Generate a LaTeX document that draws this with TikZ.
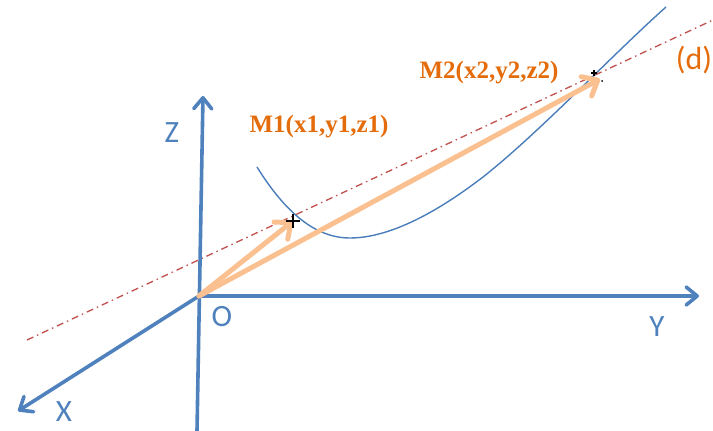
\documentclass[tikz,border=0pt]{standalone}
\usepackage{fontspec}
\newfontfamily\carl{Carlito}
\newfontfamily\tnr{Liberation Serif}
\usetikzlibrary{arrows.meta}
\definecolor{axisblue}{HTML}{4F81BD}
\definecolor{curveblue}{HTML}{4A7EBB}
\definecolor{vecorange}{HTML}{FAC090}
\definecolor{lblorange}{HTML}{E46C0A}
\definecolor{dashred}{HTML}{C0504D}
\tikzset{
  axis/.style={draw=axisblue, line width=3.6pt, line cap=round, -{Straight Barb[length=11pt,width=18pt,line cap=round,line join=round]}},
  vec/.style={draw=vecorange, line width=5pt, line cap=round, -{Straight Barb[length=13pt,width=22pt,line cap=round,line join=round]}},
  axlbl/.style={text=axisblue, font=\carl\fontsize{31}{31}\selectfont, inner sep=0pt},
  ptlbl/.style={text=lblorange, font=\tnr\bfseries\fontsize{25}{25}\selectfont, inner sep=0pt},
  dlbl/.style={text=lblorange, font=\carl\fontsize{32}{32}\selectfont, inner sep=0pt},
  line d/.style={draw=dashred, line width=1.3pt, dash pattern=on 7pt off 4pt on 1.5pt off 4pt},
}
\begin{document}
\begin{tikzpicture}[x=1pt,y=-1pt]
\useasboundingbox (0,0) rectangle (713,431);
% key points
\coordinate (O) at (199,296);
\coordinate (Ztop) at (203,96);
\coordinate (Zbot) at (197,431);
\coordinate (Ytip) at (699,296);
\coordinate (Xtip) at (18,411);
\coordinate (D1) at (27,340);
\coordinate (D2) at (713,20);
\coordinate (M1) at (293,221);
\coordinate (M2) at (600,79);
% line (d)
\draw[line d] (D1) -- (D2);
% curve
\draw[curveblue, line width=1.4pt] (257,167) .. controls (285,212) and (315,238) .. (350,238)
  .. controls (398,238) and (453,200) .. (483,177)
  .. controls (540,132) and (610,57) .. (666,7);
% axes
\draw[axis] (Zbot) -- (Ztop);
\draw[axis] (O) -- (Ytip);
\draw[axis] (O) -- (Xtip);
% vectors
\draw[vec] (O) -- (M1);
\draw[vec] (O) -- (M2);
% markers
\draw[black, line width=2pt] (286,221) -- (300,221) (293,214) -- (293,228);
\draw[black, line width=1.3pt] (591,73) -- (597,73) (594,70) -- (594,76);
\fill[black] (602,81) circle (1pt);
% labels
\node[axlbl] (zl) at (172,133) {Z};
\node[axlbl] (xl) at (64,412) {X};
\node[axlbl] (ol) at (222,317) {O};
\node[axlbl] (yl) at (657,327) {Y};
\node[dlbl] (dl) at (694,60) {(d)};
\node[ptlbl] (m1l) at (319,127) {M1(x1,y1,z1)};
\node[ptlbl] (m2l) at (489,73) {M2(x2,y2,z2)};
\end{tikzpicture}
\end{document}
